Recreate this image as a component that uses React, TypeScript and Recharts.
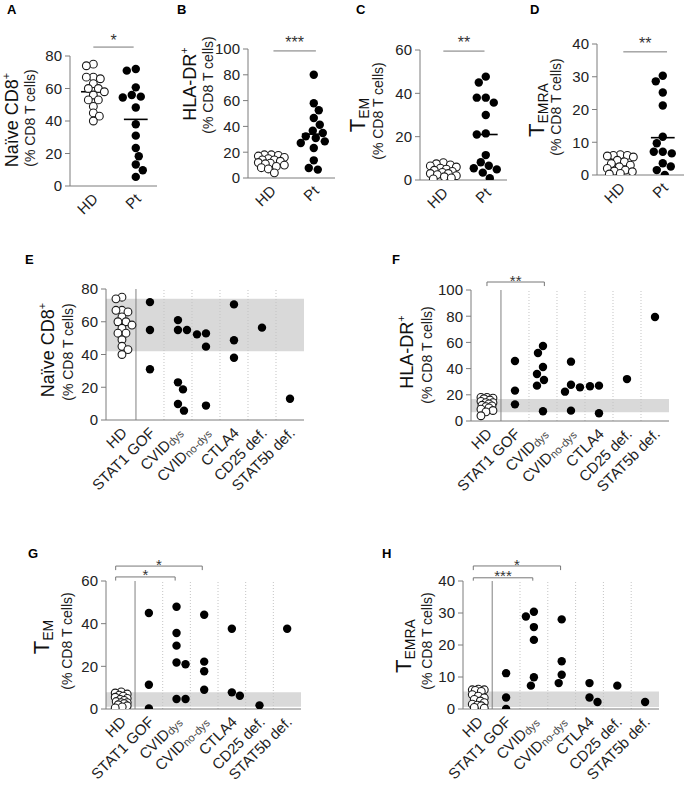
import React from 'react';
import { ScatterChart, Scatter, XAxis, YAxis, ReferenceLine, ReferenceArea } from 'recharts';

const FONT = '"Liberation Sans", Arial, Helvetica, sans-serif';
const AXIS = '#7d7d7d';

// ---------- tick labels ----------
const topLabels = ['HD', 'Pt'];
const groupLabels = ['HD', 'STAT1 GOF', 'CVID|dys', 'CVID|no-dys', 'CTLA4', 'CD25 def.', 'STAT5b def.'];

// ---------- top row values ----------
const naiveHD = [75, 74, 67, 67, 66, 63, 60, 60, 58, 56, 53, 53, 49, 45, 43, 40];
const naivePt = [72, 71, 60.7, 56, 55, 54.5, 48.3, 38, 31, 23.4, 18.3, 13.2, 9.7, 5.6];
const hladrHD = [18, 18, 17.5, 17, 16, 15, 14, 14, 13, 12, 11.5, 11, 10, 9, 8, 7, 4];
const hladrPt = [80, 58, 52.5, 46.5, 41.3, 36.7, 34.9, 32.3, 31, 28.4, 27.1, 23.3, 13.7, 7.8, 6.5];
const temHD = [8, 7.5, 7, 6.5, 6, 5.5, 5, 4.5, 4, 3.5, 3, 3, 2.5, 2, 1.5, 1, 0.5];
const temPt = [47.7, 45, 38, 38, 35.7, 30, 21.5, 21, 11.5, 8.2, 6.6, 5.4, 4.9, 3.4, 0.8];
const temraHD = [6.2, 6, 6, 5.8, 5.5, 4.5, 4, 3.5, 3, 2.5, 2, 1.5, 1.2, 1, 0.5, 0.3];
const temraPt = [30.3, 28.6, 25.2, 21.2, 11.7, 9.7, 7.1, 7.1, 6.6, 3.6, 2.6, 1.5, 0];

// means (HD, Pt)
const naiveMeans = [58, 41];
const hladrMeans = [12.4, 34];
const temMeans = [4.3, 21];
const temraMeans = [3.3, 11.4];

// ---------- bottom row values by patient group ----------
// order: STAT1 GOF, CVIDdys, CVIDno-dys, CTLA4, CD25 def., STAT5b def.
const naiveGroups = [[72, 55, 31], [61, 55, 55, 23, 18.7, 9.8, 5.7], [52.9, 52.3, 44.8, 8.8], [70.6, 48.7, 38], [56.4], [13]];
const hladrGroups = [[45.8, 23.2, 12.7], [57.3, 51.9, 41.2, 35.9, 31.3, 27, 7.4], [45.3, 27.7, 25.7, 22.4, 7.9], [27, 26.5, 5.9], [32], [79.4]];
const temGroups = [[45, 11.4, 0.3], [47.9, 35.6, 29.7, 21.8, 21, 4.7, 4.7], [44.2, 22.2, 17.7, 9], [37.6, 7.8, 6.2], [1.7], [37.6]];
const temraGroups = [[11.2, 3.6, 0], [30.4, 28.9, 25.6, 21.6, 9.9, 7.3], [28, 14.9, 10.7, 8.1], [8.1, 3.6, 2.2], [7.3], [2.2]];

// HD reference ranges (grey bands)
const naiveBand = [42, 74];
const hladrBand = [6.6, 16.8];
const temBand = [1, 7.8];
const temraBand = [0.6, 5.5];

// ---------- beeswarm layout (pixel based, deterministic) ----------
function swarm(values: number[], pxY: number, pxX: number, minDist: number, maxHalf: number): number[] {
  const placed: { dx: number; py: number }[] = [];
  const res = new Array(values.length).fill(0);
  const order = values.map((_, i) => i).sort((a, b) => values[b] - values[a]);
  order.forEach((i, k) => {
    const py = values[i] * pxY;
    const cands: number[] = [0];
    const flip = k % 2 === 1 ? -1 : 1;
    for (let s = 1; s <= maxHalf; s += 1) cands.push(s * flip, -s * flip);
    let best = 0;
    let bestScore = -1;
    for (const c of cands) {
      let mind = Infinity;
      for (const p of placed) {
        const d = Math.hypot(p.dx - c, p.py - py);
        if (d < mind) mind = d;
      }
      if (mind >= minDist) { best = c; bestScore = Infinity; break; }
      if (mind > bestScore) { bestScore = mind; best = c; }
    }
    placed.push({ dx: best, py });
    res[i] = best / pxX;
  });
  return res;
}

type Group = { cat: number; values: number[]; open?: boolean; minDist: number; maxHalf: number };
type Sig = { x1: number; x2: number; y: number; drop?: number; text: string; fs: number; c: number };
type Cfg = {
  plotLeft: number; plotTop: number; plotW: number; plotH: number;
  xDomain: [number, number]; yMax: number; yTicks: number[];
  labels: string[]; groups: Group[];
  means: { cat: number; y: number; half: number }[];
  band?: number[]; separators?: boolean; sigs: Sig[];
};

const starContent = (text: string, c: number, fs: number) => (props: any) => {
  const vb = props.viewBox || {};
  const x = (vb.x ?? 0) + (vb.width ?? 0) / 2;
  const y = (vb.y ?? 0) - c + 0.57 * fs;
  return (
    <text x={x} y={y} textAnchor="middle" fontSize={fs} fill="#333" fontFamily={FONT}>{text}</text>
  );
};

// rotated category label (HTML text, anchored at its right-middle point)
const CatLabel = ({ ax, ay, label }: { ax: number; ay: number; label: string }) => {
  const [main, sub] = label.split('|');
  return (
    <div style={{
      position: 'absolute', left: ax, top: ay, transform: 'translate(-100%, -50%) rotate(-45deg)',
      transformOrigin: '100% 50%', fontSize: 15, lineHeight: 1, whiteSpace: 'nowrap', fontFamily: FONT, color: '#222',
    }}>
      {main}
      {sub ? <span style={{ fontSize: 11, color: '#444', position: 'relative', top: 1 }}>{sub}</span> : null}
    </div>
  );
};

function Panel({ p }: { p: Cfg }) {
  const ML = 60, MT = 45, MR = 10, MB = 30;
  const width = p.plotW + ML + MR;
  const height = p.plotH + MT + MB;
  const pxX = p.plotW / (p.xDomain[1] - p.xDomain[0]);
  const pxY = p.plotH / p.yMax;
  const series = p.groups.map((g) => {
    const offs = swarm(g.values, pxY, pxX, g.minDist, g.maxHalf);
    return { g, data: g.values.map((v, i) => ({ x: g.cat + offs[i], y: v })) };
  });
  const seps = p.separators ? [0.5, 1.5, 2.5, 3.5, 4.5, 5.5] : [];
  return (
    <>
      <div style={{ position: 'absolute', left: p.plotLeft - ML, top: p.plotTop - MT }}>
        <ScatterChart width={width} height={height} margin={{ top: MT, right: MR, bottom: 0, left: 0 }}>
          <XAxis
            type="number" dataKey="x" domain={p.xDomain} allowDataOverflow
            ticks={p.labels.map((_, i) => i)} interval={0} height={MB}
            tick={false}
            axisLine={{ stroke: AXIS }} tickLine={{ stroke: AXIS }} tickSize={4}
          />
          <YAxis
            type="number" dataKey="y" domain={[0, p.yMax]} allowDataOverflow
            ticks={p.yTicks} interval={0} width={ML}
            tick={{ fontSize: 15, fill: '#222', fontFamily: FONT }}
            axisLine={{ stroke: AXIS }} tickLine={{ stroke: AXIS }} tickSize={5} tickMargin={3}
          />
          {p.band ? (
            <ReferenceArea x1={p.xDomain[0]} x2={p.xDomain[1]} y1={p.band[0]} y2={p.band[1]}
              fill="#d9d9d9" fillOpacity={1} stroke="none" ifOverflow="hidden" />
          ) : null}
          {seps.map((s, i) => (
            <ReferenceLine key={'sep' + i} x={s} stroke={i === 0 ? '#808080' : '#c4c4c4'}
              strokeWidth={1} strokeDasharray={i === 0 ? undefined : '1 2'} />
          ))}
          {series.map(({ g, data }, i) => (
            <Scatter key={'s' + i} data={data} isAnimationActive={false}
              shape={(sp: any) => g.open
                ? <circle cx={sp.cx} cy={sp.cy} r={3.9} fill="#fff" stroke="#1a1a1a" strokeWidth={1.1} />
                : <circle cx={sp.cx} cy={sp.cy} r={4.2} fill="#000" />}
            />
          ))}
          {p.means.map((m, i) => (
            <ReferenceLine key={'m' + i} segment={[{ x: m.cat - m.half, y: m.y }, { x: m.cat + m.half, y: m.y }]}
              stroke="#000" strokeWidth={1.6} ifOverflow="visible" />
          ))}
          {p.sigs.map((s, i) => (
            <ReferenceLine key={'sig' + i} segment={[{ x: s.x1, y: s.y }, { x: s.x2, y: s.y }]}
              stroke="#777" strokeWidth={1} ifOverflow="visible"
              label={{ content: starContent(s.text, s.c, s.fs) } as any} />
          ))}
          {p.sigs.filter((s) => s.drop !== undefined).map((s, i) => (
            <ReferenceLine key={'d1' + i} segment={[{ x: s.x1, y: s.y }, { x: s.x1, y: s.drop as number }]}
              stroke="#777" strokeWidth={1} ifOverflow="visible" />
          ))}
          {p.sigs.filter((s) => s.drop !== undefined).map((s, i) => (
            <ReferenceLine key={'d2' + i} segment={[{ x: s.x2, y: s.y }, { x: s.x2, y: s.drop as number }]}
              stroke="#777" strokeWidth={1} ifOverflow="visible" />
          ))}
        </ScatterChart>
      </div>
      {p.labels.map((lab, i) => (
        <CatLabel key={'l' + i} label={lab}
          ax={p.plotLeft + (i - p.xDomain[0]) * pxX + 2}
          ay={p.plotTop + p.plotH + 10} />
      ))}
    </>
  );
}

const topDomain: [number, number] = [-0.55, 1.5];
const botDomainEF: [number, number] = [-0.57, 6.5];
const botDomainGH: [number, number] = [-0.55, 6.5];

function topGroups(hd: number[], pt: number[], hdHalf: number): Group[] {
  return [
    { cat: 0, values: hd, open: true, minDist: 6.5, maxHalf: hdHalf },
    { cat: 1, values: pt, minDist: 8.6, maxHalf: 13 },
  ];
}
function botGroups(hd: number[], groups: number[][], hdHalf: number): Group[] {
  return [
    { cat: 0, values: hd, open: true, minDist: 6, maxHalf: hdHalf },
    ...groups.map((v, i) => ({ cat: i + 1, values: v, minDist: 8.6, maxHalf: 11 })),
  ];
}

const panels: Cfg[] = [
  {
    plotLeft: 70, plotTop: 56, plotW: 87, plotH: 130, xDomain: topDomain, yMax: 80, yTicks: [0, 20, 40, 60, 80],
    labels: topLabels, groups: topGroups(naiveHD, naivePt, 12),
    means: [{ cat: 0, y: naiveMeans[0], half: 0.29 }, { cat: 1, y: naiveMeans[1], half: 0.28 }],
    sigs: [{ x1: 0, x2: 0.95, y: 85.5, text: '*', fs: 16, c: 10 }],
  },
  {
    plotLeft: 248, plotTop: 49, plotW: 87, plotH: 129, xDomain: topDomain, yMax: 100, yTicks: [0, 20, 40, 60, 80, 100],
    labels: topLabels, groups: topGroups(hladrHD, hladrPt, 13),
    means: [{ cat: 0, y: hladrMeans[0], half: 0.29 }, { cat: 1, y: hladrMeans[1], half: 0.28 }],
    sigs: [{ x1: 0.05, x2: 1.05, y: 98.5, text: '***', fs: 16, c: 12 }],
  },
  {
    plotLeft: 420, plotTop: 50, plotW: 87, plotH: 130, xDomain: topDomain, yMax: 60, yTicks: [0, 20, 40, 60],
    labels: topLabels, groups: topGroups(temHD, temPt, 13),
    means: [{ cat: 0, y: temMeans[0], half: 0.29 }, { cat: 1, y: temMeans[1], half: 0.28 }],
    sigs: [{ x1: 0, x2: 0.97, y: 59.5, text: '**', fs: 16, c: 12 }],
  },
  {
    plotLeft: 597, plotTop: 44, plotW: 87, plotH: 131, xDomain: topDomain, yMax: 40, yTicks: [0, 10, 20, 30, 40],
    labels: topLabels, groups: topGroups(temraHD, temraPt, 13),
    means: [{ cat: 0, y: temraMeans[0], half: 0.29 }, { cat: 1, y: temraMeans[1], half: 0.28 }],
    sigs: [{ x1: 0.07, x2: 1.1, y: 37.6, text: '**', fs: 16, c: 12 }],
  },
  {
    plotLeft: 106, plotTop: 289, plotW: 198, plotH: 131, xDomain: botDomainEF, yMax: 80, yTicks: [0, 20, 40, 60, 80],
    labels: groupLabels, groups: botGroups(naiveHD, naiveGroups, 10), band: naiveBand, separators: true,
    means: [{ cat: 0, y: naiveMeans[0], half: 0.25 }], sigs: [],
  },
  {
    plotLeft: 471, plotTop: 290, plotW: 198, plotH: 131, xDomain: botDomainEF, yMax: 100, yTicks: [0, 20, 40, 60, 80, 100],
    labels: groupLabels, groups: botGroups(hladrHD, hladrGroups, 6), band: hladrBand, separators: true,
    means: [{ cat: 0, y: hladrMeans[0], half: 0.25 }],
    sigs: [{ x1: 0, x2: 2.05, y: 106.1, drop: 103, text: '**', fs: 15, c: 5 }],
  },
  {
    plotLeft: 106, plotTop: 581, plotW: 195, plotH: 128, xDomain: botDomainGH, yMax: 60, yTicks: [0, 20, 40, 60],
    labels: groupLabels, groups: botGroups(temHD, temGroups, 6), band: temBand, separators: true,
    means: [{ cat: 0, y: 4, half: 0.25 }],
    sigs: [
      { x1: -0.2, x2: 1.95, y: 61.9, drop: 60.2, text: '*', fs: 15, c: 5 },
      { x1: -0.2, x2: 2.93, y: 67, drop: 65.1, text: '*', fs: 15, c: 5 },
    ],
  },
  {
    plotLeft: 463, plotTop: 581, plotW: 196, plotH: 128, xDomain: botDomainGH, yMax: 40, yTicks: [0, 10, 20, 30, 40],
    labels: groupLabels, groups: botGroups(temraHD, temraGroups, 6), band: temraBand, separators: true,
    means: [{ cat: 0, y: 3, half: 0.25 }],
    sigs: [
      { x1: -0.18, x2: 1.96, y: 41, drop: 40.1, text: '***', fs: 15, c: 5 },
      { x1: -0.18, x2: 2.96, y: 44.7, drop: 43.4, text: '*', fs: 15, c: 5 },
    ],
  },
];

const Rot = ({ x, y, size, children, color = '#111' }: any) => (
  <div style={{
    position: 'absolute', left: x, top: y, transform: 'translate(-50%, -50%) rotate(-90deg)',
    fontSize: size, lineHeight: 1, whiteSpace: 'nowrap', fontFamily: FONT, color,
  }}>{children}</div>
);

const Letter = ({ x, y, t }: any) => (
  <div style={{ position: 'absolute', left: x, top: y, fontSize: 13, fontWeight: 'bold', fontFamily: FONT, lineHeight: 1, color: '#000' }}>{t}</div>
);

const sup = { fontSize: '0.6em', verticalAlign: '0.7em', lineHeight: 0 } as React.CSSProperties;
const subS = (fs: number) => ({ fontSize: fs, verticalAlign: '-0.25em', lineHeight: 0 } as React.CSSProperties);

const Naive = () => (<span>Naïve CD8<span style={sup}>+</span></span>);
const HLA = () => (<span>HLA-DR<span style={sup}>+</span></span>);
const TEM = () => (<span style={{ fontSize: 22 }}>T<span style={subS(14)}>EM</span></span>);
const TEMRA = () => (<span style={{ fontSize: 22 }}>T<span style={subS(14)}>EMRA</span></span>);
const SMALL = '(% CD8 T cells)';

export default function App() {
  return (
    <div style={{ position: 'absolute', left: 0, top: 0, width: 689, height: 788, overflow: 'hidden', background: '#fff' }}>
      {panels.map((p, i) => <Panel key={i} p={p} />)}

      <Letter x={7} y={3} t="A" />
      <Letter x={177} y={3} t="B" />
      <Letter x={356} y={3} t="C" />
      <Letter x={530} y={3} t="D" />
      <Letter x={25} y={253} t="E" />
      <Letter x={392} y={253} t="F" />
      <Letter x={28} y={547} t="G" />
      <Letter x={382} y={547} t="H" />

      <Rot x={12} y={120} size={18}><Naive /></Rot>
      <Rot x={30} y={118} size={14} color="#222">{SMALL}</Rot>
      <Rot x={190} y={84} size={18}><HLA /></Rot>
      <Rot x={208} y={85} size={14} color="#222">{SMALL}</Rot>
      <Rot x={358} y={115} size={18}><TEM /></Rot>
      <Rot x={378} y={111} size={14} color="#222">{SMALL}</Rot>
      <Rot x={537} y={110} size={18}><TEMRA /></Rot>
      <Rot x={556} y={107} size={14} color="#222">{SMALL}</Rot>

      <Rot x={48} y={350} size={18}><Naive /></Rot>
      <Rot x={68} y={352} size={14} color="#222">{SMALL}</Rot>
      <Rot x={407} y={352} size={18}><HLA /></Rot>
      <Rot x={427} y={355} size={14} color="#222">{SMALL}</Rot>
      <Rot x={42} y={637} size={18}><TEM /></Rot>
      <Rot x={67} y={641} size={14} color="#222">{SMALL}</Rot>
      <Rot x={404} y={646} size={18}><TEMRA /></Rot>
      <Rot x={427} y={641} size={14} color="#222">{SMALL}</Rot>
    </div>
  );
}
